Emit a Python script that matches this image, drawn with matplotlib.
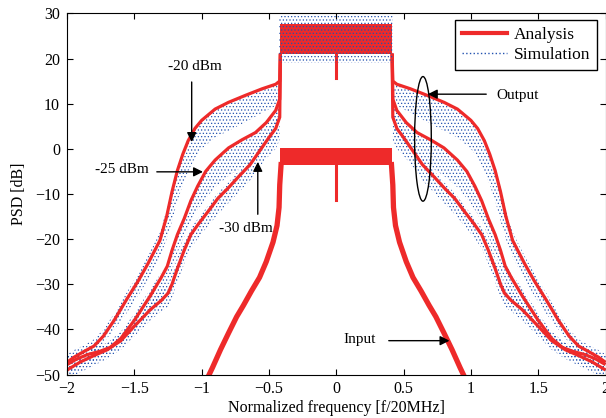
import numpy as np
import matplotlib.pyplot as plt
from matplotlib.patches import Ellipse
from matplotlib.lines import Line2D

plt.rcParams['font.family'] = ['Liberation Serif', 'DejaVu Serif']
plt.rcParams['hatch.linewidth'] = 0.5

red = '#ee2a2a'
blue = '#2352b0'

# analysis curves, right half (the chart is symmetric about f = 0)
a20_x = [0.415, 0.42, 0.45, 0.55, 0.67, 0.8, 0.9, 1.0, 1.05, 1.1, 1.14, 1.18, 1.22, 1.26, 1.31,
         1.4, 1.47, 1.56, 1.65, 1.73, 1.8, 1.88, 1.95, 2.0]
a20_y = [21.1, 15, 14.3, 13.3, 11.9, 10.3, 8.8, 6.3, 4.5, 1.8, -1.2, -4.8, -9.5, -15, -20.3,
         -25.5, -29.2, -33.5, -38, -41.5, -43.7, -45, -46.2, -47.3]
a25_x = [0.415, 0.42, 0.45, 0.52, 0.6, 0.7, 0.8, 0.9, 0.97, 1.03, 1.08, 1.13, 1.18, 1.22, 1.255,
         1.3, 1.38, 1.5, 1.6, 1.68, 1.76, 1.85, 1.93, 2.0]
a25_y = [21.1, 11, 8.5, 5.8, 3.6, 2.0, 0.2, -2.5, -5, -8.3, -11.5, -15.5, -19, -22.5, -26,
         -28.5, -32.5, -38, -42, -44, -44.9, -45.6, -46.6, -47.8]
a30_x = [0.415, 0.42, 0.45, 0.5, 0.57, 0.64, 0.72, 0.8, 0.88, 0.95, 1.02, 1.08, 1.13, 1.18, 1.22,
         1.25, 1.3, 1.38, 1.5, 1.6, 1.7, 1.8, 1.9, 2.0]
a30_y = [21.1, 7, 4.5, 2.5, -0.5, -3.5, -6, -8.6, -11, -13.8, -16.5, -19, -22.5, -26.5, -30,
         -32, -33.6, -35.6, -39.3, -42.5, -44.5, -45.8, -47.2, -49]
inp_x = [0.41, 0.42, 0.425, 0.44, 0.47, 0.52, 0.57, 0.63, 0.69, 0.74, 0.8, 0.86, 0.92, 0.96]
inp_y = [-3.5, -8, -13, -17, -20.7, -25, -28.5, -31.5, -34.7, -37.2, -40.8, -44.5, -48.5, -51]

# in-band levels
band_edge = 0.415
out_lo, out_hi, out_notch = 21.1, 27.7, 15.7
in_lo, in_hi, in_notch = -3.5, 0.15, -11.3

# simulation spread, right half
sim_band = [19.0, 29.5]
sim20_x = [0.42, 0.55, 0.67, 0.8, 0.9, 1.0, 1.05, 1.1, 1.14, 1.18, 1.22, 1.26, 1.31, 1.4, 1.47,
           1.56, 1.65, 1.73, 1.8, 1.88, 1.95, 2.0]
sim20_hi = [14.5, 13.0, 11.7, 10.2, 8.7, 6.3, 4.6, 2.0, -0.8, -4.2, -8.5, -13.5, -18.5, -23.8,
            -27.5, -32, -36.5, -40, -42.2, -43.6, -44.6, -45.5]
sim20_lo = [10, 8, 6, 4, 2.5, 0, -2, -5, -8, -11.5, -16, -20, -24, -29, -32.5, -36.5, -40, -43,
            -45, -46.5, -47.5, -49]
sim25_x = [0.43, 0.52, 0.6, 0.7, 0.8, 0.9, 0.97, 1.03, 1.08, 1.13, 1.18, 1.22, 1.26, 1.3, 1.38,
           1.5, 1.6, 1.7, 1.8, 1.9, 2.0]
sim25_hi = [9.5, 5.5, 3.3, 1.7, 0, -2.6, -5, -8.3, -11.5, -15.5, -19, -22.5, -25.5, -27.5, -31,
            -36.5, -40.5, -43, -44, -45, -46]
sim25_lo = [3, 0.5, -2, -4, -6, -8.5, -11, -13.5, -16, -19.5, -23, -27, -30.5, -33, -36, -40.5,
            -43.5, -45.5, -47, -48.3, -50]
sim30_x = [0.42, 0.45, 0.5, 0.57, 0.64, 0.72, 0.8, 0.88, 0.95, 1.02, 1.08, 1.13, 1.18, 1.22, 1.25,
           1.3, 1.38, 1.5, 1.6, 1.7, 1.8, 1.9, 2.0]
sim30_hi = [12, 7, 4, 0.8, -2.2, -4.7, -7.4, -9.8, -12.5, -15.2, -17.5, -20.5, -24, -27.5, -30,
            -31.8, -33.8, -37.5, -40.8, -43, -44.3, -45.8, -47.5]
sim30_lo = [2, 0, -1.5, -4, -7, -9.5, -12, -14.5, -17, -19.5, -22, -25.5, -29.5, -33, -35, -36,
            -38, -41.5, -44.5, -46.5, -48, -49.5, -51]

x_ticks = [-2, -1.5, -1, -0.5, 0, 0.5, 1, 1.5, 2]
x_labels = ['\u22122', '\u22121.5', '\u22121', '\u22120.5', '0', '0.5', '1', '1.5', '2']
y_ticks = [-50, -40, -30, -20, -10, 0, 10, 20, 30]
y_labels = ['\u221250', '\u221240', '\u221230', '\u221220', '\u221210', '0', '10', '20', '30']

fig = plt.figure(figsize=(6.06, 4.18), dpi=100)
ax = fig.add_axes([0.1106, 0.104, 0.8886, 0.864])


def halves(xr, *ys):
    x = np.array(xr)
    return [(-x,) + tuple(np.array(y) for y in ys), (x,) + tuple(np.array(y) for y in ys)]


# simulation dots
for sx, lo, hi in [(sim20_x, sim20_lo, sim20_hi), (sim25_x, sim25_lo, sim25_hi),
                   (sim30_x, sim30_lo, sim30_hi)]:
    for xx, l, h in halves(sx, lo, hi):
        ax.fill_between(xx, l, h, facecolor='none', edgecolor=blue, hatch='.....',
                        linewidth=0, zorder=1)

# analysis
for cx, cy in [(a20_x, a20_y), (a25_x, a25_y), (a30_x, a30_y)]:
    for xx, yy in halves(cx, cy):
        ax.plot(xx, yy, color=red, lw=2.3, zorder=2, solid_capstyle='butt')
for xx, yy in halves(inp_x, inp_y):
    ax.plot(xx, yy, color=red, lw=3.8, zorder=2)

ax.fill_between([-band_edge, band_edge], out_lo, out_hi, color=red, lw=0, zorder=2)
ax.fill_between([-band_edge, band_edge], in_lo, in_hi, color=red, lw=0, zorder=2)
ax.plot([0, 0], [out_lo, out_notch], color=red, lw=2.2, zorder=2)
ax.plot([0, 0], [in_lo, in_notch], color=red, lw=2.2, zorder=2)

ax.fill_between([-band_edge - 0.01, band_edge + 0.01], sim_band[0], sim_band[1],
                facecolor='none', edgecolor=blue, hatch='.....', linewidth=0, zorder=3)

# annotations
arr = dict(arrowstyle='-|>', color='k', lw=1, mutation_scale=14, shrinkA=0, shrinkB=0)
ax.text(-1.05, 18.3, '-20 dBm', ha='center', va='center', fontsize=11)
ax.annotate('', xy=(-1.074, 1.5), xytext=(-1.074, 14.8), arrowprops=arr)
ax.text(-1.59, -4.6, '-25 dBm', ha='center', va='center', fontsize=11)
ax.annotate('', xy=(-0.99, -5.1), xytext=(-1.333, -5.1), arrowprops=arr)
ax.text(-0.67, -17.6, '-30 dBm', ha='center', va='center', fontsize=11)
ax.annotate('', xy=(-0.583, -2.9), xytext=(-0.583, -14.5), arrowprops=arr)
ax.text(1.19, 11.9, 'Output', ha='left', va='center', fontsize=11)
ax.annotate('', xy=(0.68, 12.1), xytext=(1.114, 12.1), arrowprops=arr)
ax.add_patch(Ellipse((0.644, 2.2), 0.124, 27.6, facecolor='none', edgecolor='k', lw=1, zorder=4))
ax.text(0.173, -42.2, 'Input', ha='center', va='center', fontsize=11)
ax.annotate('', xy=(0.841, -42.5), xytext=(0.39, -42.5), arrowprops=arr)

ax.set_xlim(-2, 2)
ax.set_ylim(-50, 30)
ax.set_xticks(x_ticks)
ax.set_xticklabels(x_labels)
ax.set_yticks(y_ticks)
ax.set_yticklabels(y_labels)
ax.tick_params(direction='in', top=True, right=True, length=4, labelsize=11.5, pad=5)
ax.set_xlabel('Normalized frequency [f/20MHz]', fontsize=11.5, labelpad=2)
ax.set_ylabel('PSD [dB]', fontsize=11.5, labelpad=6)

handles = [Line2D([], [], color=red, lw=3, label='Analysis'),
           Line2D([], [], color=blue, ls=':', lw=1, label='Simulation')]
leg = ax.legend(handles=handles, loc='upper right', bbox_to_anchor=(0.985, 0.982),
                borderaxespad=0, fancybox=False, edgecolor='k', framealpha=1, fontsize=12.5,
                handlelength=2.6, handletextpad=0.42, borderpad=0.4, labelspacing=0.2)
leg.get_frame().set_linewidth(1)

fig.savefig('out.png', dpi=100)
